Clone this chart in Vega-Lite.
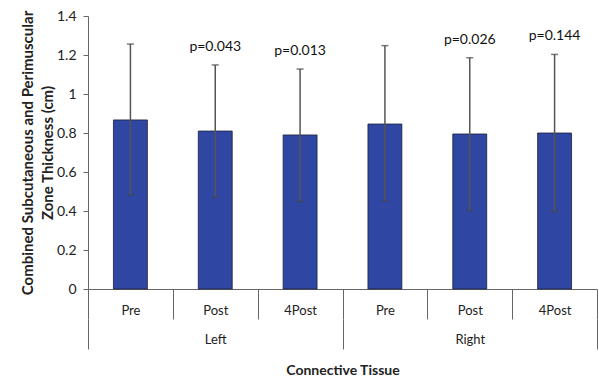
{
  "$schema": "https://vega.github.io/schema/vega-lite/v6.json",
  "width": 509,
  "height": 273,
  "autosize": "none",
  "padding": {"left": 88, "top": 16, "right": 2, "bottom": 89},
  "config": {
    "view": {"stroke": null},
    "font": "Lato",
    "axis": {"labelColor": "#222", "titleColor": "#222", "domainColor": "#666", "tickColor": "#666", "grid": false, "labelOverlap": false},
    "axisY": {"labelOverlap": false, "tickCount": 8}
  },
  "data": {
    "values": [
      {"bar": "Left-Pre", "side": "Left", "time": "Pre", "mean": 0.867, "lo": 0.482, "hi": 1.256, "p": ""},
      {"bar": "Left-Post", "side": "Left", "time": "Post", "mean": 0.81, "lo": 0.472, "hi": 1.149, "p": "p=0.043"},
      {"bar": "Left-4Post", "side": "Left", "time": "4Post", "mean": 0.79, "lo": 0.449, "hi": 1.128, "p": "p=0.013"},
      {"bar": "Right-Pre", "side": "Right", "time": "Pre", "mean": 0.846, "lo": 0.451, "hi": 1.248, "p": ""},
      {"bar": "Right-Post", "side": "Right", "time": "Post", "mean": 0.795, "lo": 0.403, "hi": 1.186, "p": "p=0.026"},
      {"bar": "Right-4Post", "side": "Right", "time": "4Post", "mean": 0.8, "lo": 0.398, "hi": 1.203, "p": "p=0.144"}
    ]
  },
  "layer": [
    {
      "encoding": {
        "x": {
          "field": "bar",
          "type": "nominal",
          "sort": null,
          "scale": {"paddingInner": 0, "paddingOuter": 0},
          "axis": {
            "orient": "bottom",
            "title": null,
            "tickBand": "extent",
            "tickSize": 30,
            "labelPadding": -15,
            "labelAngle": 0,
            "labelFontSize": 13,
            "labelExpr": "split(datum.value, '-')[1]"
          }
        }
      },
      "layer": [
        {
          "mark": {"type": "bar", "width": {"band": 0.4}, "color": "#2F46A2", "stroke": "#1c1f3a", "strokeWidth": 0.8},
          "encoding": {
            "y": {
              "field": "mean",
              "type": "quantitative",
              "scale": {"domain": [0, 1.4]},
              "axis": {
                "values": [0, 0.2, 0.4, 0.6, 0.8, 1, 1.2, 1.4],
                "format": "~g",
                "labelOverlap": false,
                "tickSize": 5,
                "labelPadding": 7,
                "labelFontSize": 14,
                "title": ["Combined Subcutaneous and Perimuscular", "Zone Thickness (cm)"],
                "titleFontSize": 15,
                "titleFontWeight": "bold",
                "titleLineHeight": 20,
                "titlePadding": 1
              }
            }
          }
        },
        {
          "mark": {"type": "rule", "color": "#555", "strokeWidth": 1.5},
          "encoding": {
            "y": {
              "field": "lo",
              "type": "quantitative",
              "axis": {
                "values": [0, 0.2, 0.4, 0.6, 0.8, 1, 1.2, 1.4],
                "format": "~g",
                "labelOverlap": false,
                "tickSize": 5,
                "labelPadding": 7,
                "labelFontSize": 14,
                "title": ["Combined Subcutaneous and Perimuscular", "Zone Thickness (cm)"],
                "titleFontSize": 15,
                "titleFontWeight": "bold",
                "titleLineHeight": 20,
                "titlePadding": 1
              }
            },
            "y2": {"field": "hi"}
          }
        },
        {
          "mark": {"type": "tick", "color": "#444", "size": 7, "thickness": 1.5},
          "encoding": {
            "y": {
              "field": "lo",
              "type": "quantitative",
              "axis": {
                "values": [0, 0.2, 0.4, 0.6, 0.8, 1, 1.2, 1.4],
                "format": "~g",
                "labelOverlap": false,
                "tickSize": 5,
                "labelPadding": 7,
                "labelFontSize": 14,
                "title": ["Combined Subcutaneous and Perimuscular", "Zone Thickness (cm)"],
                "titleFontSize": 15,
                "titleFontWeight": "bold",
                "titleLineHeight": 20,
                "titlePadding": 1
              }
            }
          }
        },
        {
          "mark": {"type": "tick", "color": "#444", "size": 7, "thickness": 1.5},
          "encoding": {
            "y": {
              "field": "hi",
              "type": "quantitative",
              "axis": {
                "values": [0, 0.2, 0.4, 0.6, 0.8, 1, 1.2, 1.4],
                "format": "~g",
                "labelOverlap": false,
                "tickSize": 5,
                "labelPadding": 7,
                "labelFontSize": 14,
                "title": ["Combined Subcutaneous and Perimuscular", "Zone Thickness (cm)"],
                "titleFontSize": 15,
                "titleFontWeight": "bold",
                "titleLineHeight": 20,
                "titlePadding": 1
              }
            }
          }
        },
        {
          "mark": {"type": "text", "dy": -18, "baseline": "middle", "fontSize": 14, "color": "#111"},
          "encoding": {
            "y": {
              "field": "hi",
              "type": "quantitative",
              "axis": {
                "values": [0, 0.2, 0.4, 0.6, 0.8, 1, 1.2, 1.4],
                "format": "~g",
                "labelOverlap": false,
                "tickSize": 5,
                "labelPadding": 7,
                "labelFontSize": 14,
                "title": ["Combined Subcutaneous and Perimuscular", "Zone Thickness (cm)"],
                "titleFontSize": 15,
                "titleFontWeight": "bold",
                "titleLineHeight": 20,
                "titlePadding": 1
              }
            },
            "text": {"field": "p"}
          }
        }
      ]
    },
    {
      "mark": {"type": "bar", "opacity": 0},
      "encoding": {
        "x": {
          "field": "side",
          "type": "nominal",
          "scale": {"paddingInner": 0, "paddingOuter": 0},
          "axis": {
            "orient": "bottom",
            "title": "Connective Tissue",
            "titleFontSize": 14,
            "titleFontWeight": "bold",
            "titlePadding": 14,
            "offset": 30,
            "domain": false,
            "tickBand": "extent",
            "tickSize": 30,
            "labelPadding": -16,
            "labelAngle": 0,
            "labelFontSize": 13
          }
        }
      }
    }
  ],
  "resolve": {"scale": {"x": "independent"}}
}
